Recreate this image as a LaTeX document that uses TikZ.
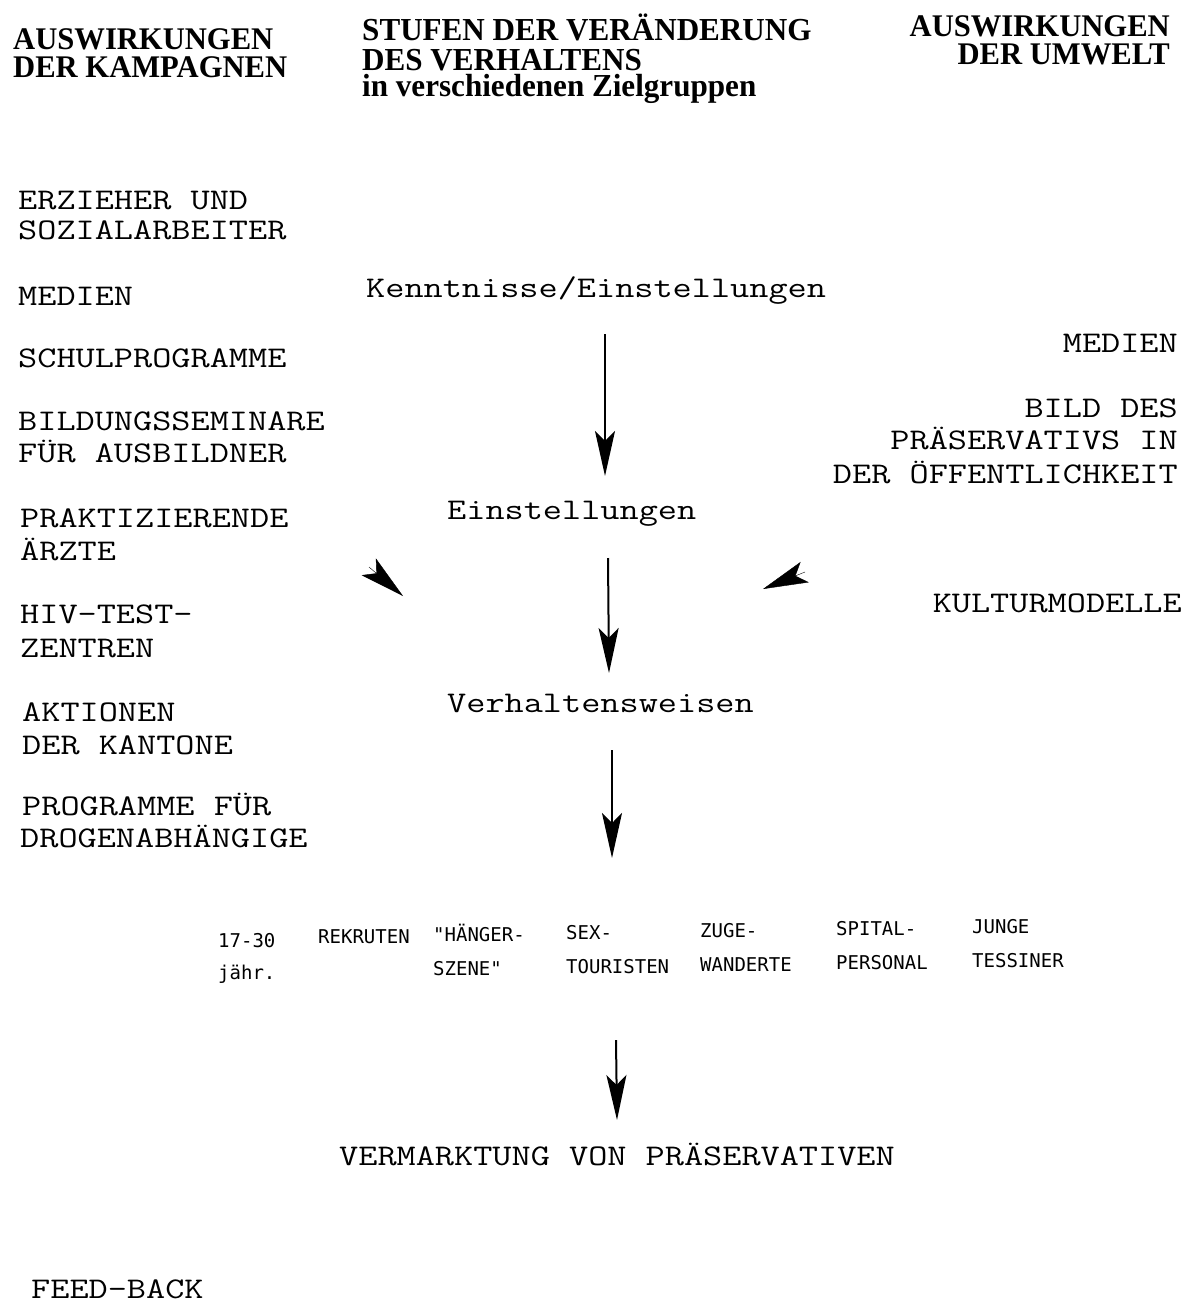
\documentclass[tikz,border=0pt]{standalone}
\usepackage{fontspec}
\usepackage{graphicx}
\setmainfont{Liberation Serif}
\newfontfamily\smfont{DejaVu Sans Mono}
\usetikzlibrary{arrows.meta}
\newcommand{\twtext}[1]{\scalebox{1.24}[1]{\ttfamily\fontsize{30}{30}\selectfont #1}}
\newcommand{\hdtext}[2][30]{\scalebox{1.02}[1.05]{\bfseries\fontsize{#1}{#1}\selectfont #2}}
\tikzset{
  hdr/.style={inner sep=0pt},
  lw/.style={inner sep=0pt, anchor=base west},
  re/.style={inner sep=0pt, anchor=base east},
  sm/.style={font=\smfont\fontsize{19}{33}\selectfont, inner sep=0pt, anchor=base west},
  barb/.style={-{Stealth[length=45pt,width=20pt,inset=10pt]}, line width=2pt},
  freehead/.style={-{Stealth[length=45pt,width=22pt,inset=10pt]}, line width=0.4pt},
}
\begin{document}
\begin{tikzpicture}[x=1pt,y=-1pt]
\useasboundingbox[fill=white] (0,0) rectangle (1196,1304);

% headers
\node[hdr, anchor=base west] (hl1) at (13,49) {\hdtext{AUSWIRKUNGEN}};
\node[hdr, anchor=base west] (hl2) at (13,77) {\hdtext{DER KAMPAGNEN}};
\node[hdr, anchor=base west] (hm1) at (362,40) {\hdtext[30.5]{STUFEN DER VERÄNDERUNG}};
\node[hdr, anchor=base west] (hm2) at (362,70) {\hdtext[30.5]{DES VERHALTENS}};
\node[hdr, anchor=base west] (hm3) at (362,96) {\hdtext[30.5]{in verschiedenen Zielgruppen}};
\node[hdr, anchor=base east] (hr1) at (1170,36) {\hdtext{AUSWIRKUNGEN}};
\node[hdr, anchor=base east] (hr2) at (1170,64) {\hdtext{DER UMWELT}};

% left column
\node[lw] (l1a) at (18,209) {\twtext{ERZIEHER UND}};
\node[lw] (l1b) at (18,239) {\twtext{SOZIALARBEITER}};
\node[lw] (l2) at (18,305) {\twtext{MEDIEN}};
\node[lw] (l3) at (18,367) {\twtext{SCHULPROGRAMME}};
\node[lw] (l4a) at (18,430) {\twtext{BILDUNGSSEMINARE}};
\node[lw] (l4b) at (18,462) {\twtext{FÜR AUSBILDNER}};
\node[lw] (l5a) at (20,527) {\twtext{PRAKTIZIERENDE}};
\node[lw] (l5b) at (20,560) {\twtext{ÄRZTE}};
\node[lw] (l6a) at (20,623) {\twtext{HIV-TEST-}};
\node[lw] (l6b) at (20,657) {\twtext{ZENTREN}};
\node[lw] (l7a) at (22,721) {\twtext{AKTIONEN}};
\node[lw] (l7b) at (22,754) {\twtext{DER KANTONE}};
\node[lw] (l8a) at (22,815) {\twtext{PROGRAMME FÜR}};
\node[lw] (l8b) at (20,847) {\twtext{DROGENABHÄNGIGE}};

% right column
\node[re] (r1) at (1178,352) {\twtext{MEDIEN}};
\node[re] (r2a) at (1178,417) {\twtext{BILD DES}};
\node[re] (r2b) at (1178,449) {\twtext{PRÄSERVATIVS IN}};
\node[re] (r2c) at (1178,483) {\twtext{DER ÖFFENTLICHKEIT}};
\node[re] (r3) at (1182,612) {\twtext{KULTURMODELLE}};

% centre column
\node[lw] (kenn) at (366,297) {\twtext{Kenntnisse/Einstellungen}};
\node[lw] (einst) at (447,519) {\twtext{Einstellungen}};
\node[lw] (verh) at (447,712) {\twtext{Verhaltensweisen}};
\node[lw] (verm) at (339,1165) {\twtext{VERMARKTUNG VON PRÄSERVATIVEN}};
\node[lw] (feed) at (31,1298) {\twtext{FEED-BACK}};

% target groups
\node[sm] (g1a) at (218,947) {17-30};
\node[sm] (g1b) at (218,979) {jähr.};
\node[sm] (g2a) at (318,943) {REKRUTEN};
\node[sm] (g3a) at (433,941) {"HÄNGER-};
\node[sm] (g3b) at (433,975) {SZENE"};
\node[sm] (g4a) at (566,939) {SEX-};
\node[sm] (g4b) at (566,973) {TOURISTEN};
\node[sm] (g5a) at (700,937) {ZUGE-};
\node[sm] (g5b) at (700,971) {WANDERTE};
\node[sm] (g6a) at (836,935) {SPITAL-};
\node[sm] (g6b) at (836,969) {PERSONAL};
\node[sm] (g7a) at (972,933) {JUNGE};
\node[sm] (g7b) at (972,967) {TESSINER};

% arrows
\coordinate (a1s) at (605,334);
\coordinate (a1e) at (605,476);
\coordinate (a2s) at (608,558);
\coordinate (a2e) at (609,673);
\coordinate (a3s) at (612,750);
\coordinate (a3e) at (612,858);
\coordinate (a4s) at (616,1040);
\coordinate (a4e) at (617,1120);
\draw[barb] (a1s) -- (a1e);
\draw[barb] (a2s) -- (a2e);
\draw[barb] (a3s) -- (a3e);
\draw[barb] (a4s) -- (a4e);

% free arrowheads
\coordinate (lhb) at (369,567);
\coordinate (lht) at (403,596);
\coordinate (rhb) at (805,572);
\coordinate (rht) at (763,589);
\draw[freehead] (lhb) -- (lht);
\draw[freehead] (rhb) -- (rht);
\end{tikzpicture}
\end{document}
